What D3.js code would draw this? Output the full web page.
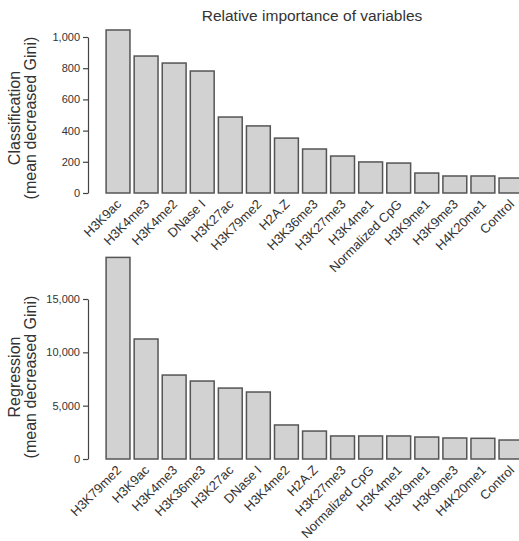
<!DOCTYPE html>
<html>
<head>
<meta charset="utf-8">
<script src="https://cdn.jsdelivr.net/npm/d3@7"></script>
<style>
  body { margin: 0; background: #fff; }
  svg { display: block; font-family: "Liberation Sans", Arial, sans-serif; }
  .axis path, .axis line { stroke: #444; stroke-width: 1.2; }
  .axis text { fill: #333; font-size: 11px; }
</style>
</head>
<body>
<svg id="chart" width="519" height="541"></svg>
<script>
// ---- data ----
const classVars = ['H3K9ac', 'H3K4me3', 'H3K4me2', 'DNase I', 'H3K27ac', 'H3K79me2', 'H2A.Z',
  'H3K36me3', 'H3K27me3', 'H3K4me1', 'Normalized CpG', 'H3K9me1', 'H3K9me3', 'H4K20me1', 'Control'];
const classGini = [1045, 878, 833, 782, 487, 430, 352, 282, 237, 199, 192, 128, 109, 109, 96];
const classTicks = [0, 200, 400, 600, 800, 1000];

const regVars = ['H3K79me2', 'H3K9ac', 'H3K4me3', 'H3K36me3', 'H3K27ac', 'DNase I', 'H3K4me2',
  'H2A.Z', 'H3K27me3', 'Normalized CpG', 'H3K4me1', 'H3K9me1', 'H3K9me3', 'H4K20me1', 'Control'];
const regGini = [18900, 11250, 7870, 7310, 6650, 6280, 3190, 2620, 2160, 2160, 2160, 2060, 1970, 1940, 1780];
const regTicks = [0, 5000, 10000, 15000];

const svg = d3.select('#chart');
const fmt = d3.format(',');

svg.append('text')
  .attr('x', 312).attr('y', 21)
  .attr('text-anchor', 'middle')
  .attr('font-size', 15.5)
  .attr('fill', '#333')
  .text('Relative importance of variables');

function panel(vars, vals, ticks, opt) {
  const g = svg.append('g');
  const x = d3.scaleBand().domain(vars).range([104, 525]).paddingInner(0.15).paddingOuter(0.075);
  const y = d3.scaleLinear().domain([0, ticks[ticks.length - 1]]).range([opt.y0, opt.y1]);

  g.append('g').attr('class', 'axis')
    .attr('transform', 'translate(88,0)')
    .call(d3.axisLeft(y).tickValues(ticks).tickFormat(fmt).tickSize(5).tickSizeOuter(0).tickPadding(3));

  g.selectAll('rect.bar').data(vals).join('rect')
    .attr('class', 'bar')
    .attr('x', (d, i) => x(vars[i]))
    .attr('width', x.bandwidth())
    .attr('y', d => y(d))
    .attr('height', d => y(0) - y(d))
    .attr('fill', '#d2d2d2')
    .attr('stroke', '#555')
    .attr('stroke-width', 1.5);

  g.selectAll('text.xl').data(vars).join('text')
    .attr('class', 'xl')
    .attr('transform', d => `translate(${x(d) + x.bandwidth() / 2 + 4},${opt.y0 + 12}) rotate(-45)`)
    .attr('text-anchor', 'end')
    .attr('font-size', 13)
    .attr('fill', '#333')
    .text(d => d);

  const t = g.append('text')
    .attr('transform', `translate(0,${opt.cy}) rotate(-90)`)
    .attr('text-anchor', 'middle')
    .attr('font-size', 16)
    .attr('fill', '#333');
  t.append('tspan').attr('x', 0).attr('y', 20).text(opt.title);
  t.append('tspan').attr('x', 0).attr('y', 36).text('(mean decreased Gini)');
}

panel(classVars, classGini, classTicks, { y0: 193, y1: 37, cy: 118, title: 'Classification' });
panel(regVars, regGini, regTicks, { y0: 459, y1: 299, cy: 377, title: 'Regression' });
</script>
</body>
</html>
